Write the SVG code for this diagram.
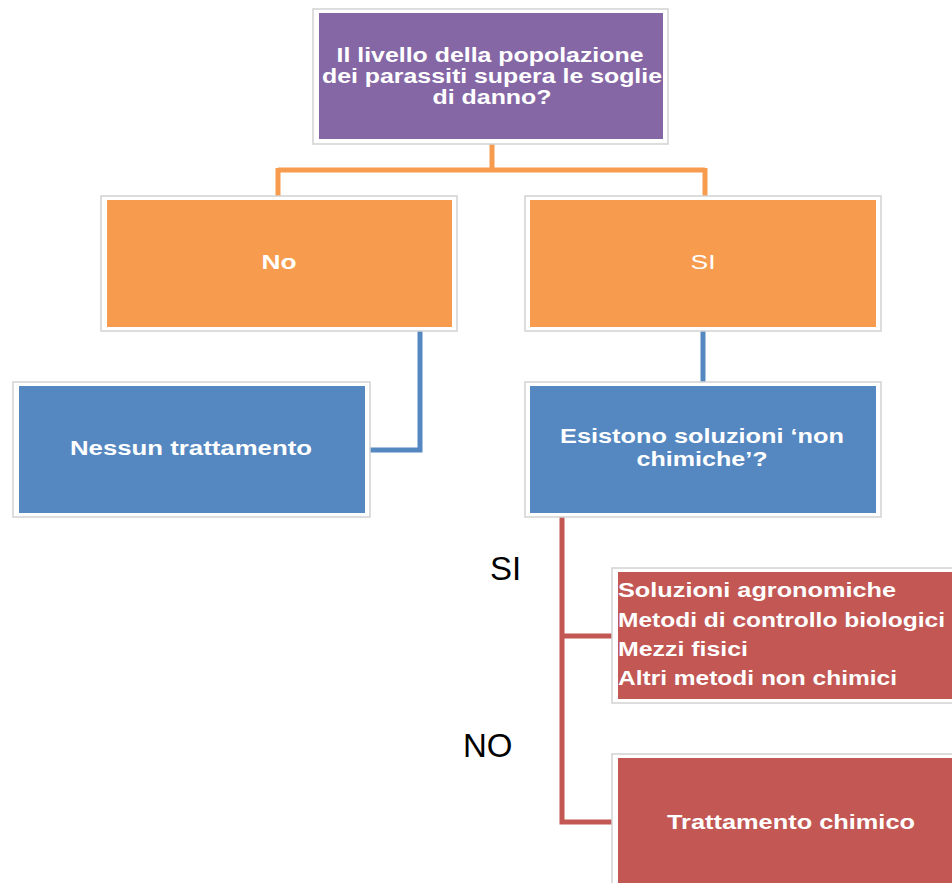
<svg xmlns="http://www.w3.org/2000/svg" width="952" height="883" viewBox="0 0 952 883">
<style>
.frame{fill:#ffffff;stroke:#d2d2d2;stroke-width:1.5}
.purple{fill:#8567a6}
.orange{fill:#f79c4e}
.blue{fill:#5588c1}
.red{fill:#c25754}
.t{font-family:"Liberation Sans",Arial,sans-serif;font-weight:bold;font-size:20px;fill:#ffffff}
.c{text-anchor:middle}
.lab{font-family:"Liberation Sans",Arial,sans-serif;font-size:33px;fill:#000000}
.conn{fill:none;stroke-width:5;stroke-linejoin:miter}
</style>
<g id="connectors">
<path class="conn" stroke="#f79c4e" d="M492 144 V170 M278 170 H705 M278 168 V196 M705 168 V196"/>
<path class="conn" stroke="#5588c1" d="M420 331 V450 H370"/>
<path class="conn" stroke="#5588c1" d="M703 331 V382"/>
<path class="conn" stroke="#c25754" d="M562 517 V822 H612 M562 636 H612"/>
</g>
<g id="n-top">
<rect class="frame" x="313" y="9" width="355" height="135"/>
<rect class="purple" x="319" y="13" width="344" height="126"/>
<text class="t c" x="490" y="62" textLength="307" lengthAdjust="spacingAndGlyphs">Il livello della popolazione</text>
<text class="t c" x="492" y="83" textLength="340" lengthAdjust="spacingAndGlyphs">dei parassiti supera le soglie</text>
<text class="t c" x="492" y="104" textLength="119" lengthAdjust="spacingAndGlyphs">di danno?</text>
</g>
<g id="n-no">
<rect class="frame" x="101" y="196" width="356" height="135"/>
<rect class="orange" x="107" y="200" width="345" height="127"/>
<text class="t c" x="279" y="269" textLength="35" lengthAdjust="spacingAndGlyphs">No</text>
</g>
<g id="n-si">
<rect class="frame" x="525" y="196" width="356" height="135"/>
<rect class="orange" x="530" y="200" width="346" height="127"/>
<text class="t c" x="703" y="269" style="font-weight:normal" textLength="25" lengthAdjust="spacingAndGlyphs">SI</text>
</g>
<g id="n-nessun">
<rect class="frame" x="13" y="382" width="357" height="135"/>
<rect class="blue" x="19" y="386" width="346" height="127"/>
<text class="t c" x="191" y="455" textLength="242" lengthAdjust="spacingAndGlyphs">Nessun trattamento</text>
</g>
<g id="n-esistono">
<rect class="frame" x="525" y="382" width="356" height="135"/>
<rect class="blue" x="530" y="386" width="346" height="127"/>
<text class="t c" x="702" y="443" textLength="284" lengthAdjust="spacingAndGlyphs">Esistono  soluzioni ‘non</text>
<text class="t c" x="702" y="466" textLength="131" lengthAdjust="spacingAndGlyphs">chimiche’?</text>
</g>
<g id="n-nonchim">
<rect class="frame" x="612" y="568" width="345" height="135"/>
<rect class="red" x="618" y="572" width="340" height="127"/>
<text class="t" x="618" y="597" textLength="278" lengthAdjust="spacingAndGlyphs">Soluzioni agronomiche</text>
<text class="t" x="618" y="627" textLength="327" lengthAdjust="spacingAndGlyphs">Metodi di controllo biologici</text>
<text class="t" x="618" y="656" textLength="130" lengthAdjust="spacingAndGlyphs">Mezzi fisici</text>
<text class="t" x="618" y="685" textLength="279" lengthAdjust="spacingAndGlyphs">Altri metodi non chimici</text>
</g>
<g id="n-chim">
<rect class="frame" x="612" y="754" width="345" height="135"/>
<rect class="red" x="618" y="758" width="340" height="130"/>
<text class="t c" x="791" y="829" textLength="248" lengthAdjust="spacingAndGlyphs">Trattamento chimico</text>
</g>
<g id="labels">
<text class="lab" x="490" y="580">SI</text>
<text class="lab" x="463" y="757">NO</text>
</g>
</svg>
